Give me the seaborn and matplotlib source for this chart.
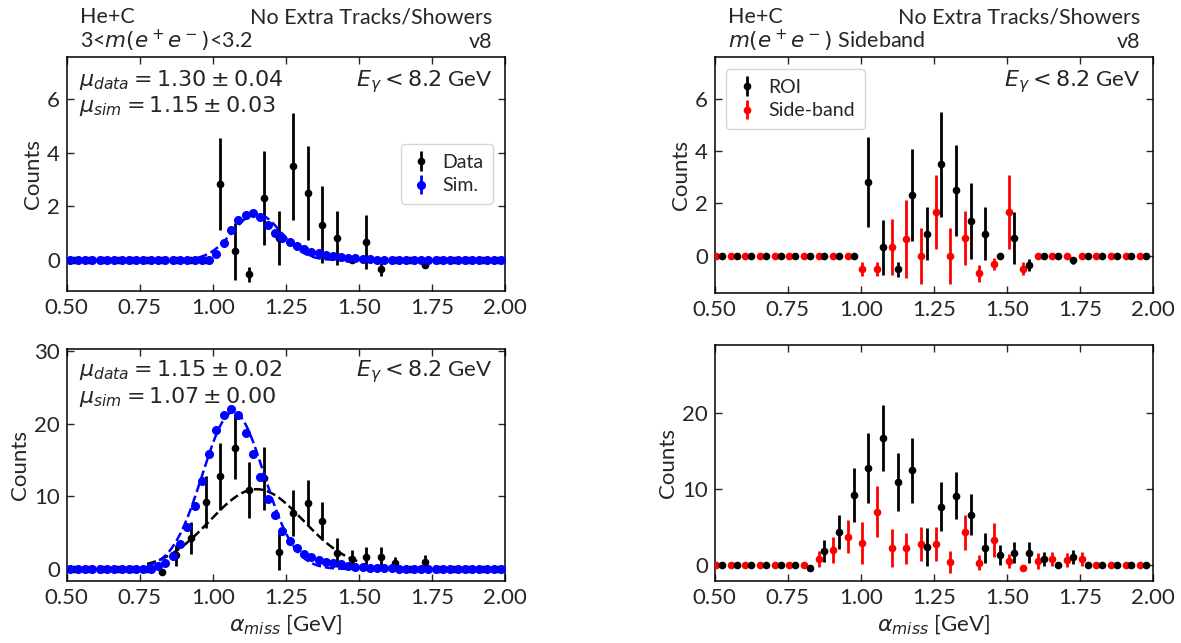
import numpy as np
import pandas as pd
import matplotlib
matplotlib.use("Agg")
import matplotlib.pyplot as plt
import seaborn as sns
from matplotlib.ticker import MultipleLocator
from matplotlib.transforms import offset_copy

sns.set_style("ticks")
plt.rcParams['font.family'] = ['Lato', 'DejaVu Sans']
plt.rcParams['mathtext.fontset'] = 'dejavusans'

# ---------------- data ----------------
# data bin centres (0.05 GeV bins) and simulation bin centres (0.025 GeV bins)
x_data = np.round(np.arange(0.525, 2.0, 0.05), 4)
x_sim = np.round(np.arange(0.5125, 2.0, 0.025), 4)
SB_SHIFT = -0.02  # side-band points drawn shifted for visibility

# top row: 3 < m(ee) < 3.2
top_roi = [0, 0, 0, 0, 0, 0, 0, 0, 0, 0,
           2.83, 0.32, -0.52, 2.31, 0.83, 3.49, 2.49, 1.32, 0.83, 0.0,
           0.66, -0.35, 0, 0, -0.18, 0, 0, 0, 0, 0]
top_roi_err = [0, 0, 0, 0, 0, 0, 0, 0, 0, 0,
               1.72, 1.05, 0.28, 1.76, 1.01, 2.0, 1.75, 1.44, 1.01, 0,
               1.0, 0.23, 0, 0, 0.13, 0, 0, 0, 0, 0]
top_sb = [0, 0, 0, 0, 0, 0, 0, 0, 0, 0,
          -0.51, -0.51, 0.33, 0.64, 0.0, 1.67, 0.0, 0.67, -0.68, -0.33,
          1.67, -0.5, 0, 0, 0, 0, 0, 0, 0, 0]
top_sb_err = [0, 0, 0, 0, 0, 0, 0, 0, 0, 0,
              0.27, 0.27, 1.07, 1.49, 1.07, 1.42, 1.07, 1.02, 0.32, 0.22,
              1.42, 0.25, 0, 0, 0, 0, 0, 0, 0, 0]
top_sim = [0] * 19 + [0.02, 0.21, 0.62, 1.12, 1.48, 1.67, 1.77, 1.59, 1.30, 0.99,
                      0.81, 0.66, 0.52, 0.41, 0.31, 0.26, 0.20, 0.16, 0.12, 0.08,
                      0.06, 0.05, 0.04, 0.02, 0.01] + [0] * 16

# bottom row
bot_roi = [0, 0, 0, 0, 0, 0,
           -0.35, 1.87, 4.3, 9.25, 12.8, 16.7, 10.9, 12.5, 2.4, 7.7,
           9.15, 6.65, 2.27, 1.33, 1.62, 1.62, 0.83, 0.0, 1.03,
           0, 0, 0, 0, 0]
bot_roi_err = [0, 0, 0, 0, 0, 0,
               0.2, 1.45, 2.25, 3.55, 4.6, 4.35, 3.8, 4.3, 2.5, 3.2,
               3.1, 2.65, 2.0, 1.35, 1.42, 1.42, 0.9, 0, 0.93,
               0, 0, 0, 0, 0]
bot_sb = [0, 0, 0, 0, 0, 0, 0,
          0.79, 1.98, 3.74, 2.86, 7.03, 2.2, 2.2, 2.77, 2.77, 0.44, 4.3,
          0.3, 3.3, 0.53, -0.35, 0.53, 0.79, 0.66, 0.79,
          0, 0, 0, 0]
bot_sb_err = [0, 0, 0, 0, 0, 0, 0,
              1.0, 1.7, 2.2, 2.75, 3.4, 2.5, 2.05, 2.2, 2.2, 1.45, 2.26,
              0.97, 2.26, 0.95, 0, 1.0, 0.95, 0.95, 0.95,
              0, 0, 0, 0]
bot_sim = [0] * 12 + [0.41, 0.78, 1.79, 3.44, 5.8, 8.67, 12.1, 15.8, 19.1, 21.2,
                      22.1, 21.2, 18.8, 15.9, 12.7, 9.6, 7.4, 5.3, 3.9, 2.84,
                      2.1, 1.6, 1.3, 1.0, 0.88, 0.64, 0.46, 0.32, 0.23, 0.18,
                      0.14, 0.1, 0.08, 0.05, 0.03] + [0] * 13

# Gaussian fit results: (amplitude, mean, sigma, fit range lo, hi)
fit_top_sim = (1.72, 1.15, 0.083, 0.95, 1.50)
fit_bot_data = (11.0, 1.15, 0.16, 0.775, 1.50)
fit_bot_sim = (21.6, 1.07, 0.105, 0.775, 1.50)

stat_top = [r"$\mu_{data} = 1.30 \pm 0.04$", r"$\mu_{sim} = 1.15 \pm 0.03$"]
stat_bot = [r"$\mu_{data} = 1.15 \pm 0.02$", r"$\mu_{sim} = 1.07 \pm 0.00$"]
egamma = r"$E_{\gamma} < 8.2$ GeV"

# ---------------- figure ----------------
fig = plt.figure(figsize=(11.81, 6.43), dpi=100)
ax_tl = fig.add_axes([0.0565, 0.5479, 0.3711, 0.3630])
ax_tr = fig.add_axes([0.6052, 0.5439, 0.3714, 0.3670])
ax_bl = fig.add_axes([0.0565, 0.0969, 0.3711, 0.3603])
ax_br = fig.add_axes([0.6052, 0.0969, 0.3714, 0.3666])

FS = 16
TFS = 15.5
SFS = 16
EB = dict(fmt='o', capsize=0, elinewidth=2.0, linestyle='none')
LEG = dict(fontsize=14, handlelength=1.1, handletextpad=0.55,
           borderpad=0.5, labelspacing=0.35, borderaxespad=0.6)


def gauss_curve(ax, p, color):
    a, m, s, lo, hi = p
    xs = np.linspace(lo, hi, 300)
    df = pd.DataFrame({'x': xs, 'y': a * np.exp(-0.5 * ((xs - m) / s) ** 2)})
    sns.lineplot(data=df, x='x', y='y', ax=ax, color=color, linestyle='--',
                 linewidth=1.8, legend=False, zorder=4)


def style(ax, ylim, ymaj):
    ax.set_xlim(0.5, 2.0)
    ax.set_ylim(*ylim)
    ax.xaxis.set_major_locator(MultipleLocator(0.25))
    ax.yaxis.set_major_locator(MultipleLocator(ymaj))
    ax.tick_params(direction='in', top=True, right=True, length=5, width=1,
                   labelsize=FS, pad=5)
    for sp in ax.spines.values():
        sp.set_linewidth(1.1)
        sp.set_color('black')
    ax.set_ylabel("Counts", fontsize=FS, labelpad=3)
    ax.set_xlabel("")


def stats(ax, lines, y1, y2):
    ax.text(0.028, y1, lines[0], transform=ax.transAxes, fontsize=SFS,
            ha='left', va='baseline')
    ax.text(0.028, y2, lines[1], transform=ax.transAxes, fontsize=SFS,
            ha='left', va='baseline')


def eg(ax, y):
    ax.text(0.970, y, egamma, transform=ax.transAxes, fontsize=SFS,
            ha='right', va='baseline')


def titles(ax, left2):
    t1 = offset_copy(ax.transAxes, fig=fig, y=24.5, units='points')
    t2 = offset_copy(ax.transAxes, fig=fig, y=6.5, units='points')
    ax.text(0.03, 1.0, "He+C", transform=t1, fontsize=TFS, ha='left', va='baseline')
    ax.text(0.03, 1.0, left2, transform=t2, fontsize=TFS, ha='left', va='baseline')
    ax.text(0.97, 1.0, "No Extra Tracks/Showers", transform=t1, fontsize=TFS,
            ha='right', va='baseline')
    ax.text(0.97, 1.0, "v8", transform=t2, fontsize=TFS, ha='right', va='baseline')


# top-left: data vs sim
ax = ax_tl
ax.errorbar(x_data, top_roi, yerr=top_roi_err, color='black', ms=4.5,
            label='Data', zorder=3, **EB)
ax.errorbar(x_sim, top_sim, yerr=np.zeros(len(x_sim)), color='blue', ms=5.5,
            label='Sim.', zorder=5, **EB)
gauss_curve(ax, fit_top_sim, 'blue')
style(ax, (-1.14, 7.55), 2)
stats(ax, stat_top, 0.877, 0.767)
eg(ax, 0.877)
titles(ax, r"3<$m(e^+e^-)$<3.2")
ax.legend(loc='center right', **LEG)

# top-right: ROI vs side-band
ax = ax_tr
ax.errorbar(x_data, top_roi, yerr=top_roi_err, color='black', ms=4.5,
            label='ROI', zorder=4, **EB)
ax.errorbar(x_data + SB_SHIFT, top_sb, yerr=top_sb_err, color='red', ms=4.5,
            label='Side-band', zorder=3, **EB)
style(ax, (-1.44, 7.58), 2)
eg(ax, 0.878)
titles(ax, r"$m(e^+e^-)$ Sideband")
ax.legend(loc='upper left', **LEG)

# bottom-left
ax = ax_bl
ax.errorbar(x_data, bot_roi, yerr=bot_roi_err, color='black', ms=4.5,
            zorder=3, **EB)
ax.errorbar(x_sim, bot_sim, yerr=np.zeros(len(x_sim)), color='blue', ms=5.5,
            zorder=5, **EB)
gauss_curve(ax, fit_bot_data, 'black')
gauss_curve(ax, fit_bot_sim, 'blue')
style(ax, (-1.6, 30.3), 10)
stats(ax, stat_bot, 0.883, 0.768)
eg(ax, 0.883)
ax.set_xlabel(r"$\alpha_{miss}$ [GeV]", fontsize=FS)

# bottom-right
ax = ax_br
ax.errorbar(x_data, bot_roi, yerr=bot_roi_err, color='black', ms=4.5,
            zorder=4, **EB)
ax.errorbar(x_data + SB_SHIFT, bot_sb, yerr=bot_sb_err, color='red', ms=4.5,
            zorder=3, **EB)
style(ax, (-2.07, 29.0), 10)
ax.set_xlabel(r"$\alpha_{miss}$ [GeV]", fontsize=FS)

fig.savefig("out.png", dpi=100, facecolor='white')
